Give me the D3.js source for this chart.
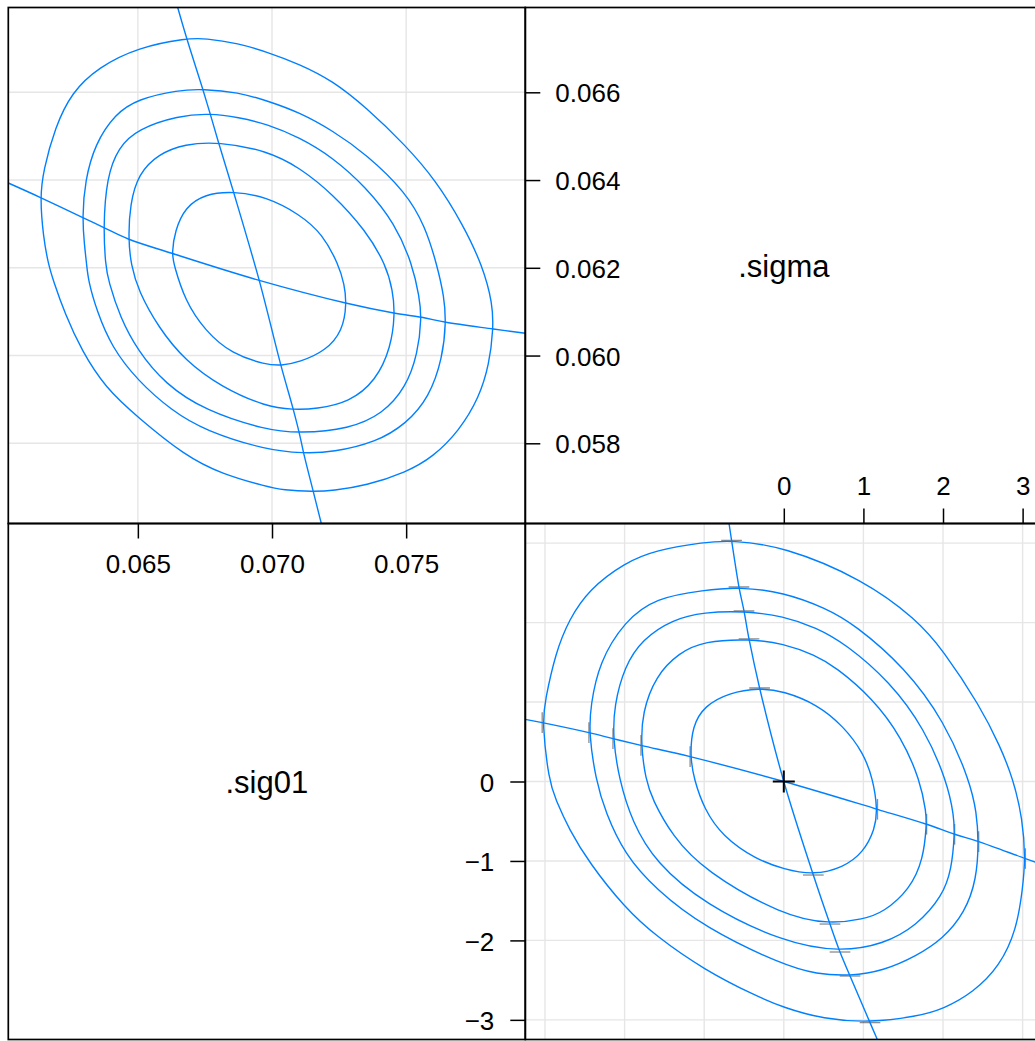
<!DOCTYPE html>
<html>
<head>
<meta charset="utf-8">
<script src="https://cdn.jsdelivr.net/npm/d3@7"></script>
<style>
  body { margin: 0; background: #fff; }
  text { font-family: "Liberation Sans", Arial, Helvetica, sans-serif; fill: #000; }
</style>
</head>
<body>
<svg id="chart" width="1035" height="1041"></svg>
<script>
// Profile pairs plot for .sig01 and .sigma
const varNames = [".sig01", ".sigma"];

// Confidence contour levels (50, 80, 90, 95, 99 %) on the zeta scale
const levels = [1.177, 1.794, 2.146, 2.448, 3.035];
const zetaLimit = 3.2473;

// Axis limits and ticks on the original scale
const sig01Limits = [0.060171, 0.079441];
const sigmaLimits = [0.056172, 0.067933];
const sig01Ticks = [0.065, 0.070, 0.075];
const sigmaTicks = [0.058, 0.060, 0.062, 0.064, 0.066];
const zetaTicksSigma = [0, 1, 2, 3];
const zetaTicksSig01 = [0, -1, -2, -3];
const zetaGrid = [-3, -2, -1, 0, 1, 2, 3];

// Lower panel (zeta scale): x = zeta(.sigma), y = zeta(.sig01)
const zContour50 = [[-0.304,1.177],[-0.006,1.138],[0.420,0.970],[0.747,0.698],[0.999,0.364],[1.121,0.028],[1.177,-0.350],[1.146,-0.601],[0.999,-0.894],[0.747,-1.083],[0.371,-1.177],[0.006,-1.105],[-0.354,-0.979],[-0.773,-0.686],[-0.999,-0.350],[-1.128,0.028],[-1.177,0.313],[-1.149,0.698],[-0.999,0.950],[-0.688,1.118]];
const zContour80 = [[-0.437,1.794],[-0.006,1.738],[0.393,1.590],[0.650,1.442],[1.115,1.049],[1.481,0.556],[1.714,0.009],[1.788,-0.391],[1.794,-0.538],[1.753,-0.979],[1.585,-1.356],[1.250,-1.649],[0.999,-1.733],[0.580,-1.794],[-0.006,-1.692],[-0.999,-1.126],[-1.401,-0.686],[-1.652,-0.224],[-1.736,0.028],[-1.794,0.455],[-1.778,0.867],[-1.611,1.327],[-1.317,1.621],[-0.999,1.767]];
const zContour90 = [[-0.5,2.146],[-0.006,2.082],[0.407,1.937],[0.778,1.731],[1.334,1.256],[1.771,0.658],[2.050,0.0],[2.138,-0.434],[2.146,-0.664],[2.108,-1.104],[1.995,-1.440],[1.668,-1.818],[1.250,-2.048],[0.706,-2.146],[-0.006,-2.026],[-0.999,-1.545],[-1.611,-1.020],[-1.903,-0.517],[-2.070,0.028],[-2.146,0.540],[-2.133,0.950],[-2.0,1.453],[-1.778,1.789],[-1.401,2.040],[-0.999,2.132]];
const zContour95 = [[-0.563,2.448],[-0.006,2.384],[0.536,2.179],[0.887,1.978],[1.522,1.436],[2.020,0.755],[2.339,0.0],[2.422,-0.391],[2.448,-0.756],[2.422,-1.230],[2.276,-1.649],[1.995,-1.985],[1.668,-2.195],[1.250,-2.384],[0.832,-2.448],[0.412,-2.425],[-0.006,-2.312],[-0.999,-1.838],[-1.611,-1.356],[-2.0,-0.916],[-2.239,-0.391],[-2.364,0.028],[-2.448,0.615],[-2.427,0.950],[-2.322,1.496],[-2.0,2.019],[-1.611,2.313],[-0.999,2.409]];
const zContour99 = [[-0.656,3.035],[-0.006,2.962],[0.999,2.543],[1.668,2.040],[1.995,1.663],[2.465,0.950],[2.716,0.447],[2.883,0.028],[3.0,-0.475],[3.035,-0.970],[3.0,-1.355],[2.925,-1.859],[2.716,-2.321],[2.381,-2.655],[2.004,-2.865],[1.668,-2.958],[1.083,-3.035],[0.496,-2.991],[-0.006,-2.844],[-0.354,-2.698],[-0.999,-2.371],[-1.611,-1.943],[-2.0,-1.586],[-2.447,-1.020],[-2.698,-0.601],[-2.867,-0.224],[-2.950,0.003],[-3.035,0.741],[-3.0,1.013],[-2.867,1.621],[-2.698,2.040],[-2.447,2.418],[-2.0,2.753],[-1.611,2.912],[-0.999,3.013]];
// Profile traces on the zeta scale
const zTraceSig01 = [[-0.688,3.2473],[-0.656,3.035],[-0.563,2.448],[-0.5,2.146],[-0.437,1.794],[-0.304,1.177],[0,0],[0.371,-1.177],[0.580,-1.794],[0.706,-2.146],[0.832,-2.448],[1.083,-3.035],[1.175,-3.2473]];
const zTraceSigma = [[-3.2473,0.782],[-3.035,0.741],[-2.448,0.615],[-2.146,0.540],[-1.794,0.455],[-1.177,0.313],[0,0],[1.177,-0.350],[1.794,-0.538],[2.146,-0.664],[2.448,-0.756],[3.035,-0.970],[3.2473,-1.045]];

// Upper panel (original scale): x = .sig01, y = .sigma
const contour50 = [[0.068558,0.063744],[0.069776,0.063621],[0.071018,0.063226],[0.071890,0.062770],[0.072486,0.062064],[0.072695,0.061631],[0.072784,0.061191],[0.072635,0.060566],[0.072013,0.060111],[0.071018,0.059846],[0.070335,0.059769],[0.069776,0.059792],[0.068498,0.060035],[0.067503,0.060566],[0.066757,0.061250],[0.066347,0.062064],[0.066262,0.062331],[0.066385,0.062846],[0.066757,0.063379],[0.067503,0.063682]];
const contour80 = [[0.067999,0.064874],[0.069814,0.064669],[0.071018,0.064291],[0.072262,0.063682],[0.073504,0.062846],[0.074249,0.062064],[0.074499,0.061478],[0.074585,0.060963],[0.074435,0.060188],[0.073876,0.059427],[0.072881,0.058934],[0.071640,0.058782],[0.070794,0.058766],[0.069776,0.058834],[0.068125,0.059276],[0.066757,0.059883],[0.065762,0.060644],[0.065017,0.061478],[0.064745,0.062064],[0.064644,0.062656],[0.064707,0.063454],[0.065017,0.064138],[0.065762,0.064594],[0.066757,0.064822]];
const contour90 = [[0.067689,0.065521],[0.068744,0.065430],[0.069814,0.065278],[0.071018,0.064974],[0.072262,0.064519],[0.073504,0.063835],[0.074577,0.063017],[0.075244,0.062064],[0.075490,0.061328],[0.075580,0.060872],[0.075431,0.060035],[0.074994,0.059276],[0.074126,0.058668],[0.072881,0.058326],[0.071018,0.058228],[0.069776,0.058303],[0.067503,0.058743],[0.066012,0.059352],[0.064994,0.060111],[0.064335,0.060872],[0.063899,0.061706],[0.063794,0.062064],[0.063712,0.062923],[0.063839,0.064063],[0.064271,0.064746],[0.064994,0.065164],[0.066508,0.065467]];
const contour95 = [[0.067417,0.066075],[0.068744,0.066000],[0.069814,0.065809],[0.071018,0.065544],[0.072262,0.065125],[0.073504,0.064594],[0.074994,0.063721],[0.075714,0.062941],[0.076150,0.062064],[0.076422,0.061328],[0.076485,0.060758],[0.076362,0.059960],[0.075863,0.059048],[0.074994,0.058440],[0.073876,0.058023],[0.072262,0.057795],[0.071182,0.057772],[0.069776,0.057847],[0.067503,0.058287],[0.066262,0.058743],[0.064994,0.059427],[0.064025,0.060188],[0.063466,0.061022],[0.063153,0.061706],[0.063093,0.062064],[0.063004,0.062542],[0.062929,0.063151],[0.063030,0.063985],[0.063403,0.064822],[0.064148,0.065505],[0.064994,0.065847],[0.066508,0.066052]];
const contour99 = [[0.066821,0.067231],[0.067503,0.067231],[0.068744,0.067117],[0.069814,0.066919],[0.071018,0.066645],[0.072262,0.066264],[0.073504,0.065658],[0.074994,0.064783],[0.076113,0.063985],[0.077108,0.062998],[0.077853,0.062041],[0.078226,0.061175],[0.078248,0.060605],[0.078099,0.059807],[0.077727,0.059048],[0.076981,0.058287],[0.075990,0.057681],[0.074994,0.057339],[0.073504,0.057034],[0.072262,0.056920],[0.071539,0.056897],[0.070399,0.056936],[0.069814,0.057011],[0.068125,0.057300],[0.066757,0.057717],[0.064994,0.058593],[0.063776,0.059276],[0.062907,0.060111],[0.062285,0.060947],[0.061849,0.061706],[0.061662,0.062087],[0.061476,0.062695],[0.061353,0.063607],[0.061476,0.064213],[0.061912,0.065202],[0.062534,0.066000],[0.063526,0.066570],[0.065017,0.067026]];
const traceSigma = [[0.066485,0.067933],[0.066821,0.067231],[0.067417,0.066075],[0.067689,0.065521],[0.067999,0.064874],[0.068558,0.063744],[0.069523,0.061713],[0.070335,0.059769],[0.070794,0.058766],[0.071018,0.058228],[0.071182,0.057772],[0.071539,0.056897],[0.071838,0.056172]];
const traceSig01 = [[0.060171,0.063933],[0.061353,0.063607],[0.062929,0.063151],[0.063712,0.062923],[0.064644,0.062656],[0.066262,0.062331],[0.069523,0.061713],[0.072784,0.061191],[0.074585,0.060963],[0.075580,0.060872],[0.076485,0.060758],[0.078248,0.060605],[0.079441,0.060507]];

const zContours = [zContour50, zContour80, zContour90, zContour95, zContour99];
const contours = [contour50, contour80, contour90, contour95, contour99];

// ---- layout ----
const cellW = 517, cellH = 516, originX = 8.3, originY = 7.5;
const colX = c => originX + c * cellW;
const rowY = r => originY + r * cellH;
const blue = "#0080ff", gridCol = "#e6e6e6";
const tickFont = 26, nameFont = 31, tickLen = 15;

const svg = d3.select("#chart");

const xSig01 = d3.scaleLinear().domain(sig01Limits).range([colX(0), colX(1)]);
const ySigma = d3.scaleLinear().domain(sigmaLimits).range([rowY(1), rowY(0)]);
const xZeta = d3.scaleLinear().domain([-zetaLimit, zetaLimit]).range([colX(1), colX(2)]);
const yZeta = d3.scaleLinear().domain([-zetaLimit, zetaLimit]).range([rowY(2), rowY(1)]);

const defs = svg.append("defs");
function clip(id, c, r) {
  defs.append("clipPath").attr("id", id).append("rect")
    .attr("x", colX(c)).attr("y", rowY(r)).attr("width", cellW).attr("height", cellH);
  return `url(#${id})`;
}

function drawGrid(g, xs, ys, xGrid, yGrid) {
  g.selectAll("line.vg").data(xGrid).join("line").attr("class", "vg")
    .attr("x1", d => xs(d)).attr("x2", d => xs(d))
    .attr("y1", ys.range()[0]).attr("y2", ys.range()[1])
    .attr("stroke", gridCol).attr("stroke-width", 1.4);
  g.selectAll("line.hg").data(yGrid).join("line").attr("class", "hg")
    .attr("y1", d => ys(d)).attr("y2", d => ys(d))
    .attr("x1", xs.range()[0]).attr("x2", xs.range()[1])
    .attr("stroke", gridCol).attr("stroke-width", 1.4);
}

function drawCurves(g, xs, ys, rings, traces) {
  const open = d3.line().x(d => xs(d[0])).y(d => ys(d[1])).curve(d3.curveCatmullRom.alpha(0.5));
  const closed = d3.line().x(d => xs(d[0])).y(d => ys(d[1])).curve(d3.curveBasisClosed);
  g.selectAll("path.trace").data(traces).join("path").attr("class", "trace")
    .attr("d", open).attr("fill", "none").attr("stroke", blue).attr("stroke-width", 1.4);
  g.selectAll("path.ring").data(rings).join("path").attr("class", "ring")
    .attr("d", closed).attr("fill", "none").attr("stroke", blue).attr("stroke-width", 1.4);
}

// Upper panel: original scale
const upper = svg.append("g").attr("clip-path", clip("clipUpper", 0, 0));
drawGrid(upper, xSig01, ySigma, sig01Ticks, sigmaTicks);
drawCurves(upper, xSig01, ySigma, contours, [traceSigma, traceSig01]);

// Lower panel: zeta scale
const lower = svg.append("g").attr("clip-path", clip("clipLower", 1, 1));
drawGrid(lower, xZeta, yZeta, zetaGrid, zetaGrid);
// short marks where the traces meet each contour
const dd = 2 * zetaLimit / 50;
const onLevel = v => levels.some(l => Math.abs(Math.abs(v) - l) < 1e-6);
const hMarks = zTraceSig01.filter(p => onLevel(p[1]));
const vMarks = zTraceSigma.filter(p => onLevel(p[0]));
const marks = lower.append("g");
marks.selectAll("line.h").data(hMarks).join("line").attr("class", "h")
  .attr("x1", d => xZeta(d[0] - dd)).attr("x2", d => xZeta(d[0] + dd))
  .attr("y1", d => yZeta(d[1])).attr("y2", d => yZeta(d[1]));
marks.selectAll("line.v").data(vMarks).join("line").attr("class", "v")
  .attr("x1", d => xZeta(d[0])).attr("x2", d => xZeta(d[0]))
  .attr("y1", d => yZeta(d[1] - dd)).attr("y2", d => yZeta(d[1] + dd));
marks.selectAll("line").attr("stroke", "#000").attr("stroke-opacity", 0.45).attr("stroke-width", 1.3);
drawCurves(lower.append("g"), xZeta, yZeta, zContours, [zTraceSig01, zTraceSigma]);
// MLE marker
const cx = xZeta(0), cy = yZeta(0), arm = 11;
lower.append("path")
  .attr("d", `M${cx - arm},${cy}H${cx + arm}M${cx},${cy - arm}V${cy + arm}`)
  .attr("stroke", "#000").attr("stroke-width", 2);

// ---- diagonal panels: variable names and axes ----
svg.append("text").attr("x", (colX(1) + colX(2)) / 2).attr("y", (rowY(0) + rowY(1)) / 2)
  .attr("dy", "0.36em").attr("text-anchor", "middle").attr("font-size", nameFont).text(varNames[1]);
svg.append("text").attr("x", (colX(0) + colX(1)) / 2).attr("y", (rowY(1) + rowY(2)) / 2)
  .attr("dy", "0.36em").attr("text-anchor", "middle").attr("font-size", nameFont).text(varNames[0]);

function styleAxis(g) {
  g.select(".domain").remove();
  g.selectAll(".tick line").attr("stroke", "#000").attr("stroke-width", 1.5);
  g.selectAll(".tick text").attr("font-size", tickFont)
    .attr("font-family", '"Liberation Sans", Arial, Helvetica, sans-serif').attr("fill", "#000");
}

// .sigma scale, inside the .sigma panel
svg.append("g").attr("transform", `translate(${colX(1)},0)`)
  .call(d3.axisRight(ySigma).tickValues(sigmaTicks).tickFormat(d3.format(".3f"))
    .tickSize(tickLen).tickPadding(15))
  .call(styleAxis)
  .call(g => g.selectAll(".tick text").attr("dy", "0.37em"));
// zeta(.sigma) scale, bottom of the .sigma panel
svg.append("g").attr("transform", `translate(0,${rowY(1)})`)
  .call(d3.axisTop(xZeta).tickValues(zetaTicksSigma).tickFormat(d3.format("d"))
    .tickSize(tickLen).tickPadding(14))
  .call(styleAxis);
// .sig01 scale, top of the .sig01 panel
svg.append("g").attr("transform", `translate(0,${rowY(1)})`)
  .call(d3.axisBottom(xSig01).tickValues(sig01Ticks).tickFormat(d3.format(".3f"))
    .tickSize(tickLen).tickPadding(16.5))
  .call(styleAxis);
// zeta(.sig01) scale, right side of the .sig01 panel
svg.append("g").attr("transform", `translate(${colX(1)},0)`)
  .call(d3.axisLeft(yZeta).tickValues(zetaTicksSig01).tickFormat(d3.format("d"))
    .tickSize(tickLen).tickPadding(16))
  .call(styleAxis)
  .call(g => g.selectAll(".tick text").attr("dy", "0.37em"));

// panel borders
const cells = [[0, 0], [1, 0], [0, 1], [1, 1]];
svg.selectAll("rect.border").data(cells).join("rect").attr("class", "border")
  .attr("x", d => colX(d[0])).attr("y", d => rowY(d[1]))
  .attr("width", cellW).attr("height", cellH)
  .attr("fill", "none").attr("stroke", "#000").attr("stroke-width", 1.7);
</script>
</body>
</html>
